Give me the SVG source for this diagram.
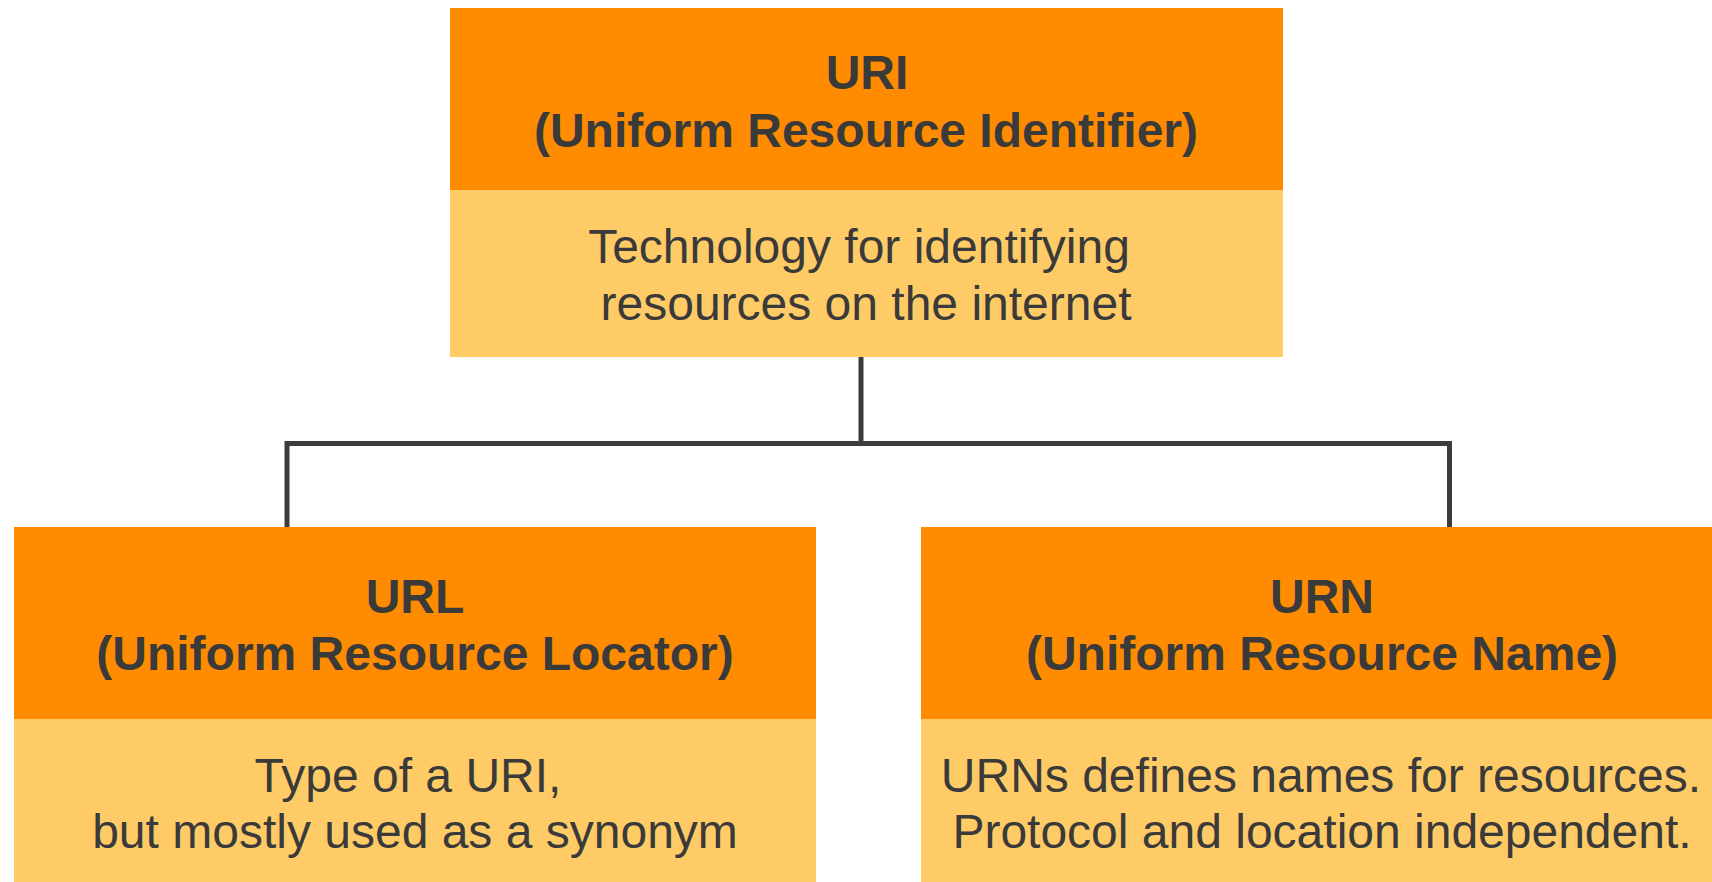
<svg xmlns="http://www.w3.org/2000/svg" width="1712" height="882" viewBox="0 0 1712 882">
<style>
.hd{fill:#FF8C00}
.bd{fill:#FECB66}
.t{font-family:"Liberation Sans",Arial,Helvetica,sans-serif;font-size:48px;fill:#3a3a3a;text-anchor:middle}
.b{font-weight:bold}
.c{fill:none;stroke:#3c3c3c;stroke-width:5;stroke-linejoin:miter;stroke-linecap:butt}
</style>
<rect width="1712" height="882" fill="#ffffff"/>
<g id="connectors">
<path class="c" d="M861 357 V443.5"/>
<path class="c" d="M287 527 V443.5 H1449.5 V527"/>
</g>
<g id="uri">
<rect class="hd" x="450" y="8" width="833" height="182"/>
<rect class="bd" x="450" y="190" width="833" height="167"/>
<text class="t b" x="867" y="89">URI</text>
<text class="t b" x="866" y="147">(Uniform Resource Identifier)</text>
<text class="t" x="859" y="263">Technology for identifying</text>
<text class="t" x="866" y="320">resources on the internet</text>
</g>
<g id="url">
<rect class="hd" x="14" y="527" width="802" height="192"/>
<rect class="bd" x="14" y="719" width="802" height="163"/>
<text class="t b" x="415" y="613">URL</text>
<text class="t b" x="415" y="670">(Uniform Resource Locator)</text>
<text class="t" x="408" y="792">Type of a URI,</text>
<text class="t" x="415" y="848">but mostly used as a synonym</text>
</g>
<g id="urn">
<rect class="hd" x="921" y="527" width="801" height="192"/>
<rect class="bd" x="921" y="719" width="801" height="163"/>
<text class="t b" x="1322" y="613">URN</text>
<text class="t b" x="1322" y="670">(Uniform Resource Name)</text>
<text class="t" x="1321" y="792">URNs defines names for resources.</text>
<text class="t" x="1322" y="848">Protocol and location independent.</text>
</g>
</svg>
